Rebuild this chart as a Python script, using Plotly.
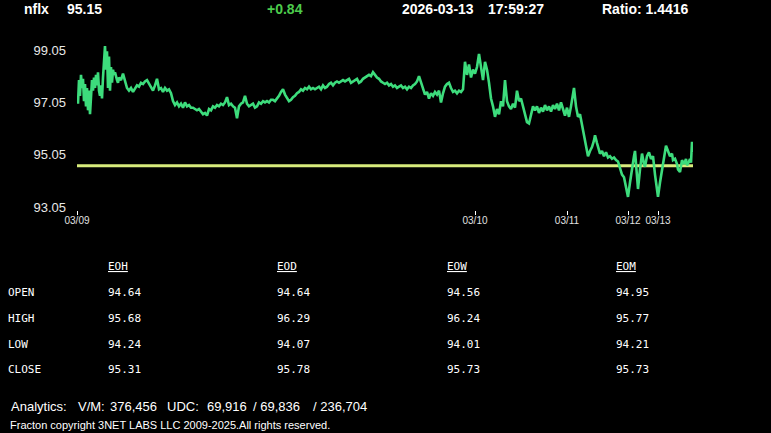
import plotly.graph_objects as go

# ---------------- data ----------------
symbol = "nflx"
last_price = "95.15"
change = "+0.84"
date_str = "2026-03-13"
time_str = "17:59:27"
ratio_str = "Ratio: 1.4416"

# bar index (session-compressed time axis) and price
bar_idx = [1, 2, 3, 4, 5, 6, 7, 8, 9, 10, 11, 12, 13, 14, 15, 16, 17, 18, 19, 20,
           21, 22, 23, 24, 25, 26, 27, 28, 29, 30, 31, 32, 33, 34, 35, 36, 37, 38, 40, 41,
           42, 44, 46, 48, 50, 52, 54, 56, 58, 60, 62, 64, 66, 68, 70, 72, 74, 76, 78, 80,
           82, 84, 86, 88, 90, 92, 94, 96, 98, 100, 102, 104, 106, 108, 110, 112, 114, 116, 118, 120,
           122, 124, 126, 128, 130, 132, 134, 136, 138, 140, 142, 144, 146, 148, 150, 152, 154, 156, 158, 160,
           162, 164, 166, 168, 170, 172, 174, 176, 178, 180, 182, 184, 186, 188, 190, 192, 194, 196, 198, 200,
           202, 204, 206, 208, 210, 212, 214, 216, 218, 220, 222, 224, 226, 228, 230, 232, 234, 236, 238, 240,
           242, 244, 246, 248, 250, 252, 254, 256, 258, 260, 262, 264, 266, 268, 270, 272, 274, 276, 278, 280,
           282, 284, 286, 288, 290, 292, 294, 296, 298, 300, 302, 304, 306, 308, 310, 312, 314, 316, 318, 320,
           322, 324, 326, 328, 330, 332, 334, 336, 338, 340, 342, 344, 346, 348, 350, 352, 354, 356, 358, 360,
           362, 364, 366, 368, 370, 372, 374, 376, 378, 380, 382, 384, 386, 388, 390, 392, 394, 396, 398, 400,
           402, 404, 406, 408, 410, 412, 414, 416, 418, 420, 422, 424, 426, 428, 430, 432, 434, 436, 438, 440,
           442, 444, 446, 448, 450, 452, 454, 456, 458, 460, 462, 464, 466, 468, 470, 472, 474, 476, 478, 480,
           482, 484, 486, 488, 490, 492, 494, 496, 497, 499, 501, 503, 505, 507, 509, 511, 513, 515, 517, 518,
           520, 521, 523, 525, 527, 529, 531, 533, 535, 537, 539, 541, 543, 545, 547, 549, 551, 553, 555, 557,
           558, 560, 561, 563, 565, 567, 568, 570, 572, 574, 576, 578, 580, 581, 583, 585, 587, 589, 591, 593,
           595, 596, 598, 600, 601, 603, 605, 607, 609, 610, 612, 613, 614, 615, 616]

price = [97.00, 97.90, 97.30, 98.10, 97.60, 97.95, 97.10, 97.75, 96.90, 97.60, 96.75, 97.50, 96.60, 97.40, 97.90, 97.50, 98.00, 97.60, 98.10, 97.70,
         98.20, 97.50, 97.30, 97.70, 97.20, 98.00, 98.60, 99.20, 98.30, 99.00, 97.60, 98.80, 97.50, 98.40, 97.80, 98.30, 98.10, 98.20, 97.90, 97.80,
         98.00, 97.90, 98.15, 97.90, 97.60, 97.50, 97.60, 97.45, 97.60, 97.70, 97.65, 97.80, 97.75, 97.85, 97.90, 97.75, 97.60, 97.50, 97.70, 97.95,
         97.55, 97.60, 97.45, 97.60, 97.50, 97.55, 97.40, 97.10, 96.95, 97.05, 96.90, 97.00, 96.85, 97.05, 96.90, 96.95, 96.85, 96.85, 96.80, 96.75,
         96.80, 96.70, 96.60, 96.65, 96.55, 96.80, 96.75, 96.90, 96.85, 96.95, 96.90, 97.00, 96.95, 97.05, 97.25, 96.95, 97.00, 96.90, 96.85, 96.45,
         96.90, 97.00, 97.05, 97.30, 97.00, 96.90, 96.95, 97.00, 96.85, 96.90, 97.05, 97.00, 97.10, 97.05, 97.10, 97.05, 97.15, 97.15, 97.10, 97.20,
         97.30, 97.45, 97.55, 97.35, 97.20, 97.10, 97.15, 97.25, 97.30, 97.40, 97.45, 97.55, 97.50, 97.60, 97.55, 97.65, 97.55, 97.60, 97.55, 97.60,
         97.65, 97.55, 97.70, 97.60, 97.65, 97.75, 97.80, 97.70, 97.80, 97.85, 97.80, 97.85, 97.90, 97.85, 97.90, 97.95, 97.80, 97.85, 97.90, 97.95,
         97.80, 97.85, 97.95, 98.00, 98.05, 98.10, 98.05, 98.20, 98.10, 98.00, 97.95, 97.85, 97.80, 97.75, 97.80, 97.70, 97.75, 97.65, 97.70, 97.60,
         97.65, 97.70, 97.60, 97.65, 97.55, 97.65, 97.60, 97.70, 97.75, 97.85, 98.05, 97.80, 97.55, 97.35, 97.45, 97.20, 97.40, 97.30, 97.45, 97.35,
         97.50, 97.05, 97.40, 97.65, 97.75, 97.80, 97.60, 97.45, 97.50, 97.40, 97.50, 97.45, 97.55, 98.60, 98.10, 98.50, 98.00, 98.30, 98.15, 98.40,
         98.90, 98.30, 97.90, 98.60, 98.30, 97.80, 97.20, 96.90, 96.50, 96.80, 96.60, 97.10, 96.90, 97.90, 97.10, 96.90, 96.80, 97.00, 96.85, 97.50,
         97.10, 97.20, 96.90, 96.60, 96.30, 96.25, 96.60, 96.90, 96.75, 96.90, 96.65, 96.85, 96.70, 96.95, 96.75, 96.90, 96.70, 96.95, 96.80, 97.00,
         96.75, 97.05, 96.80, 96.55, 96.85, 96.50, 96.90, 97.30, 97.60, 96.90, 96.50, 96.60, 96.20, 95.80, 95.50, 95.00, 95.20, 95.35, 95.60, 95.80,
         95.50, 95.35, 95.10, 95.20, 95.00, 95.15, 94.95, 95.00, 94.90, 94.95, 94.85, 94.80, 94.55, 94.30, 94.20, 93.80, 93.45, 94.00, 94.60, 95.00,
         95.20, 94.40, 93.75, 94.50, 95.10, 94.70, 94.60, 95.00, 95.15, 94.90, 95.00, 94.30, 93.80, 93.45, 94.00, 94.50, 95.00, 95.40, 95.20, 95.00,
         95.10, 94.85, 94.90, 94.70, 94.50, 94.40, 94.85, 94.70, 94.90, 94.65, 94.80, 94.90, 94.75, 95.55, 95.15]

ref_level = 94.64  # horizontal reference (open)

x_tick_pos = [0, 398, 490, 551, 581]
x_tick_text = ["03/09", "03/10", "03/11", "03/12", "03/13"]
y_tick_vals = [93.05, 95.05, 97.05, 99.05]
y_tick_text = ["93.05", "95.05", "97.05", "99.05"]

table_cols = ["EOH", "EOD", "EOW", "EOM"]
table_rows = ["OPEN", "HIGH", "LOW", "CLOSE"]
eoh = ["94.64", "95.68", "94.24", "95.31"]
eod = ["94.64", "96.29", "94.07", "95.78"]
eow = ["94.56", "96.24", "94.01", "95.73"]
eom = ["94.95", "95.77", "94.21", "95.73"]

footer_parts = ["Analytics:", "V/M:", "376,456", "UDC:", "69,916", "/ 69,836", "/ 236,704"]
copyright_text = "Fracton copyright 3NET LABS LLC 2009-2025.All rights reserved."

# ---------------- layout geometry ----------------
W, H = 771, 433
L, R, T, B = 77, 78, 40, 223
PW, PH = W - L - R, H - T - B


def px(x):
    return (x - L) / PW


def py(y):
    return 1 - (y - T) / PH


fig = go.Figure()
fig.add_trace(go.Scatter(x=[0, 616], y=[ref_level, ref_level], mode="lines",
                         line=dict(color="#d8ec7c", width=3), hoverinfo="skip"))
fig.add_trace(go.Scatter(x=bar_idx, y=price, mode="lines",
                         line=dict(color="#3ddc7c", width=2.6), hoverinfo="skip"))

ann = []


def text(x, y, s, size=14, color="#ffffff", family="Liberation Sans", bold=False):
    ann.append(dict(x=px(x), y=py(y), xref="paper", yref="paper", text=s,
                    showarrow=False, xanchor="left", yanchor="middle",
                    font=dict(size=size, color=color, family=family,
                              weight="bold" if bold else "normal")))


# header
text(22, 9, symbol, bold=True)
text(65, 9, last_price, bold=True)
text(265, 9, change, color="#4ccb4c", bold=True)
text(400, 9, date_str, bold=True)
text(486, 9, time_str, bold=True)
text(600, 9, ratio_str, bold=True)

# table
mono = "DejaVu Sans Mono"
col_x = [106, 275, 445, 614]
row_y = [292, 318, 344, 369]
for cx, name in zip(col_x, table_cols):
    text(cx, 266, "<u>" + name + "</u>", size=11, family=mono)
for ry, name in zip(row_y, table_rows):
    text(6, ry, name, size=11, family=mono)
for cx, vals in zip(col_x, [eoh, eod, eow, eom]):
    for ry, v in zip(row_y, vals):
        text(cx, ry, v, size=11, family=mono)

# footer
foot_x = [9, 76, 108, 165, 205, 251, 311]
for fx, s in zip(foot_x, footer_parts):
    text(fx, 406, s, size=13)
text(8, 425, copyright_text, size=11)

fig.update_layout(
    width=W, height=H,
    margin=dict(l=L, r=R, t=T, b=B),
    paper_bgcolor="black", plot_bgcolor="black",
    showlegend=False,
    annotations=ann,
    xaxis=dict(range=[0, 616], tickvals=x_tick_pos, ticktext=x_tick_text,
               ticks="outside", ticklen=4, tickwidth=1, tickcolor="#ffffff",
               ticklabelstandoff=-3,
               tickfont=dict(size=10, color="#e0e0e0", family="Liberation Sans"),
               showgrid=False, zeroline=False, showline=False, fixedrange=True),
    yaxis=dict(range=[92.95, 99.43], tickvals=y_tick_vals, ticktext=y_tick_text,
               ticks="", ticklabelstandoff=10,
               tickfont=dict(size=13, color="#e8e8e8", family="Liberation Sans"),
               showgrid=False, zeroline=False, showline=False, fixedrange=True),
)

fig.write_html("out.html", config={"displayModeBar": False})
